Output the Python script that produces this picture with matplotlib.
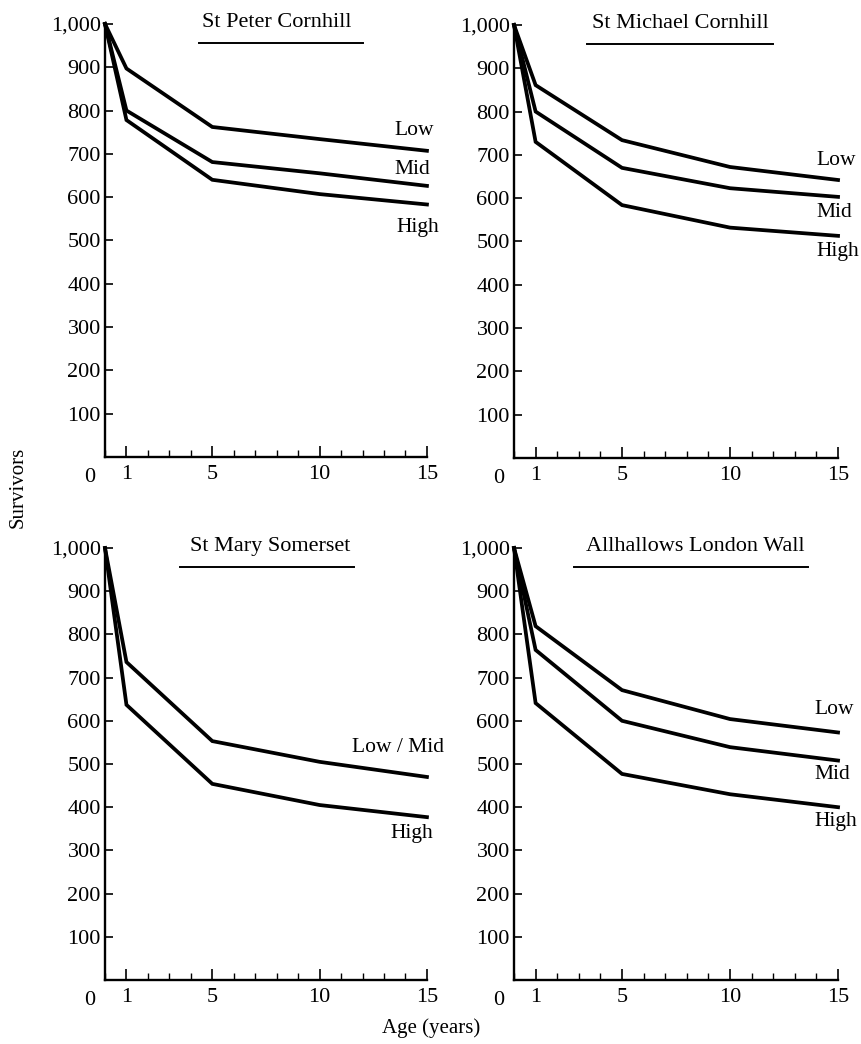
import matplotlib
matplotlib.use("Agg")
import matplotlib.pyplot as plt
from matplotlib.ticker import MultipleLocator

plt.rcParams['font.family'] = ['Liberation Serif', 'DejaVu Serif']

# Edad en años y supervivientes por cada 1.000 nacidos
ages = [0, 1, 5, 10, 15]

peter_low = [1000, 897, 762, 734, 707]
peter_mid = [1000, 800, 681, 655, 626]
peter_high = [1000, 778, 640, 607, 583]

michael_low = [1000, 861, 734, 672, 642]
michael_mid = [1000, 800, 670, 623, 603]
michael_high = [1000, 730, 584, 532, 513]

mary_lowmid = [1000, 736, 553, 505, 470]
mary_high = [1000, 637, 454, 405, 377]

allhallows_low = [1000, 819, 671, 604, 573]
allhallows_mid = [1000, 764, 600, 539, 508]
allhallows_high = [1000, 641, 477, 430, 400]

titles = ['St Peter Cornhill', 'St Michael Cornhill', 'St Mary Somerset', 'Allhallows London Wall']

fig = plt.figure(figsize=(8.62, 10.44), dpi=100)

# posiciones de los paneles (fracción de figura)
boxes = [
    [0.1218, 0.5623, 0.3735, 0.4148],
    [0.5963, 0.5613, 0.3759, 0.4148],
    [0.1218, 0.0613, 0.3735, 0.4138],
    [0.5963, 0.0613, 0.3759, 0.4138],
]

panels = [
    [(peter_low, 'Low', 755), (peter_mid, 'Mid', 663), (peter_high, 'High', 529)],
    [(michael_low, 'Low', 688), (michael_mid, 'Mid', 568), (michael_high, 'High', 476)],
    [(mary_lowmid, 'Low / Mid', 539), (mary_high, 'High', 340)],
    [(allhallows_low, 'Low', 625), (allhallows_mid, 'Mid', 475), (allhallows_high, 'High', 366)],
]
label_x = [13.5, 14.0, 11.5, 13.9]
title_x = [8.0, 7.7, 7.7, 8.4]
underline = [(4.4, 12.0), (3.4, 12.0), (3.5, 11.6), (2.8, 13.6)]
high_x = [13.6, 14.0, 13.3, 13.9]

for i, box in enumerate(boxes):
    ax = fig.add_axes(box)
    for vals, name, ly in panels[i]:
        ax.plot(ages, vals, color='black', lw=2.7, clip_on=False, solid_joinstyle='miter')
        lx = high_x[i] if name == 'High' else label_x[i]
        ax.text(lx, ly, name, fontsize=15.5, va='center', ha='left')

    ax.set_xlim(0, 15)
    ax.set_ylim(0, 1000)
    ax.spines['top'].set_visible(False)
    ax.spines['right'].set_visible(False)
    for s in ['left', 'bottom']:
        ax.spines[s].set_linewidth(1.7)

    ax.set_yticks(range(100, 1001, 100))
    ax.set_yticklabels(['{:,}'.format(v) for v in range(100, 1001, 100)])
    ax.set_xticks([1, 5, 10, 15])
    ax.xaxis.set_minor_locator(MultipleLocator(1))
    ax.tick_params(axis='y', direction='in', length=6, width=1.2, labelsize=16, pad=3)
    ax.tick_params(axis='x', which='major', direction='in', length=8, width=1.2, labelsize=16, pad=6)
    ax.tick_params(axis='x', which='minor', direction='in', length=5, width=1.0)
    ax.annotate('0', xy=(0, 0), xytext=(-11, -8), textcoords='offset points',
                fontsize=16, ha='center', va='top')

    # título subrayado
    ax.text(title_x[i], 1003, titles[i], fontsize=16, ha='center', va='center')
    ax.plot(underline[i], [956, 956], color='black', lw=1.4)

fig.text(18 / 862, 1 - 487 / 1044, 'Survivors', rotation=90, fontsize=15, ha='center', va='center')
fig.text(0.5, 1 - 1028 / 1044, 'Age (years)', fontsize=15, ha='center', va='center')

fig.savefig('out.png', dpi=100)
